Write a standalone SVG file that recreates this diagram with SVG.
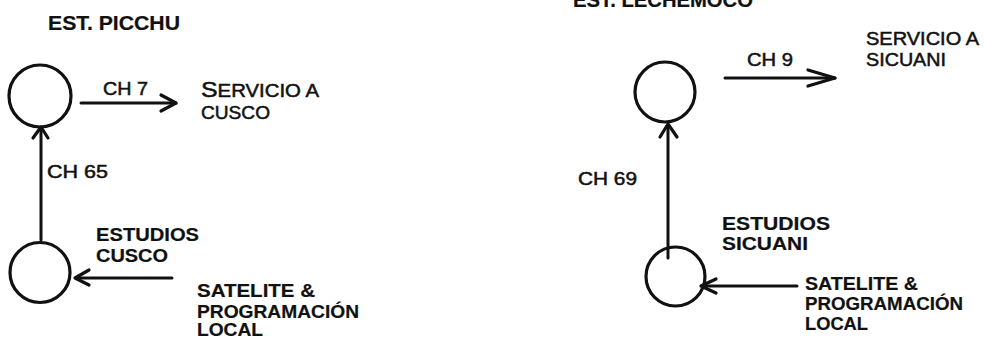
<svg xmlns="http://www.w3.org/2000/svg" width="985" height="338" viewBox="0 0 985 338">
<style>
.bg{fill:#fff}
.node{fill:none;stroke:#111;stroke-width:3.2}
.line{fill:none;stroke:#111;stroke-width:3;stroke-linecap:round}
.head{fill:none;stroke:#111;stroke-width:3.2;stroke-linecap:round;stroke-linejoin:round}
.t{font-family:"Liberation Sans",Arial,sans-serif;fill:#111;font-size:18px;stroke:#111;stroke-width:0.5}
.b{font-weight:bold;stroke-width:0.2}
.h{font-weight:bold;font-size:19.5px;stroke-width:0.2}
</style>
<rect class="bg" x="0" y="0" width="985" height="338"/>

<g id="connectors">
  <!-- left -->
  <line class="line" x1="41" y1="240" x2="41" y2="128"/>
  <polyline class="head" points="33,138 41,127 48,138"/>
  <line class="line" x1="81" y1="103" x2="176" y2="103"/>
  <polyline class="head" points="161,95 176,103 161,111"/>
  <line class="line" x1="77" y1="278" x2="172" y2="278"/>
  <polyline class="head" points="89,270 75,278 89,285"/>
  <!-- right -->
  <line class="line" x1="668" y1="258" x2="668" y2="125"/>
  <polyline class="head" points="660,137 668,124 677,137"/>
  <line class="line" x1="725" y1="78" x2="835" y2="78"/>
  <polyline class="head" points="808,70 835,78 808,86"/>
  <line class="line" x1="702" y1="286" x2="797" y2="286"/>
  <polyline class="head" points="716,279 701,286 716,293"/>
</g>

<g id="est-picchu">
  <circle class="node" cx="40" cy="96" r="31"/>
  <text class="t h" x="48" y="30" textLength="132" lengthAdjust="spacingAndGlyphs">EST. PICCHU</text>
</g>
<g id="servicio-cusco">
  <text class="t" x="201" y="97" textLength="118" lengthAdjust="spacingAndGlyphs"><tspan font-size="22">S</tspan><tspan font-size="18">ERVICIO A</tspan></text>
  <text class="t" x="201" y="118.5" textLength="69" lengthAdjust="spacingAndGlyphs">CUSCO</text>
</g>
<g id="estudios-cusco">
  <circle class="node" cx="40" cy="272.5" r="30"/>
  <text class="t b" x="96" y="241" textLength="103" lengthAdjust="spacingAndGlyphs">ESTUDIOS</text>
  <text class="t b" x="96" y="262" textLength="72" lengthAdjust="spacingAndGlyphs">CUSCO</text>
</g>
<g id="satelite-cusco">
  <text class="t b" x="197" y="297" textLength="118" lengthAdjust="spacingAndGlyphs">SATELITE &amp;</text>
  <text class="t b" x="197" y="318" textLength="162" lengthAdjust="spacingAndGlyphs">PROGRAMACIÓN</text>
  <text class="t b" x="197" y="336" textLength="66" lengthAdjust="spacingAndGlyphs">LOCAL</text>
</g>
<g id="labels-left">
  <text class="t" x="103" y="95" textLength="45" lengthAdjust="spacingAndGlyphs">CH 7</text>
  <text class="t" x="47" y="178" textLength="61" lengthAdjust="spacingAndGlyphs">CH 65</text>
</g>

<g id="est-lechemoco">
  <circle class="node" cx="665" cy="92" r="30"/>
  <text class="t h" x="573" y="7" textLength="180" lengthAdjust="spacingAndGlyphs">EST. LECHEMOCO</text>
</g>
<g id="servicio-sicuani">
  <text class="t" x="866" y="45" textLength="113" lengthAdjust="spacingAndGlyphs">SERVICIO A</text>
  <text class="t" x="866" y="66" textLength="80" lengthAdjust="spacingAndGlyphs">SICUANI</text>
</g>
<g id="estudios-sicuani">
  <circle class="node" cx="675.5" cy="276.5" r="29.5"/>
  <text class="t b" x="722" y="230" textLength="108" lengthAdjust="spacingAndGlyphs">ESTUDIOS</text>
  <text class="t b" x="722" y="250" textLength="86" lengthAdjust="spacingAndGlyphs">SICUANI</text>
</g>
<g id="satelite-sicuani">
  <text class="t b" x="805" y="290" textLength="113" lengthAdjust="spacingAndGlyphs">SATELITE &amp;</text>
  <text class="t b" x="805" y="310" textLength="158" lengthAdjust="spacingAndGlyphs">PROGRAMACIÓN</text>
  <text class="t b" x="805" y="330" textLength="63" lengthAdjust="spacingAndGlyphs">LOCAL</text>
</g>
<g id="labels-right">
  <text class="t" x="747" y="66" textLength="46" lengthAdjust="spacingAndGlyphs">CH 9</text>
  <text class="t" x="578" y="185" textLength="59" lengthAdjust="spacingAndGlyphs">CH 69</text>
</g>
</svg>
